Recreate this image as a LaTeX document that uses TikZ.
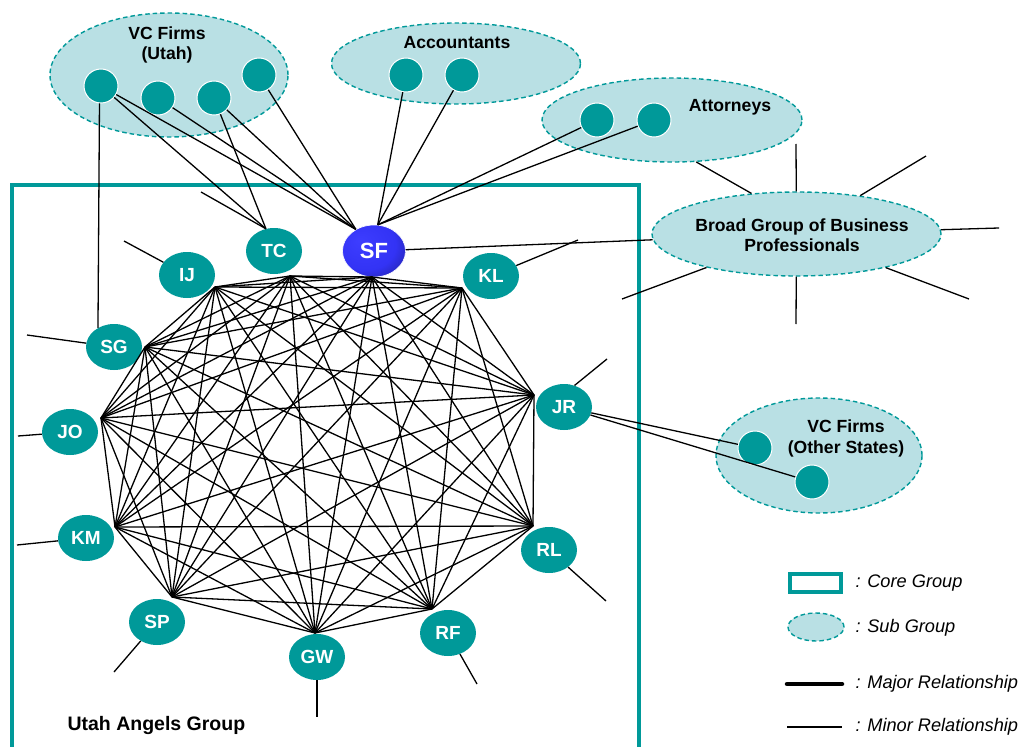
\documentclass[tikz,border=0pt]{standalone}
\usepackage{fontspec}
\setmainfont{Liberation Sans}
\usetikzlibrary{shapes.geometric}
\definecolor{teal1}{RGB}{0,153,153}
\definecolor{lteal}{RGB}{185,224,228}
\pgfdeclareradialshading{sfball}{\pgfpoint{-12bp}{10bp}}{rgb(0bp)=(0.24,0.24,1);rgb(24bp)=(0.2,0.2,0.96);rgb(40bp)=(0.12,0.12,0.6);rgb(56bp)=(0.05,0.05,0.3)}
\tikzset{
  member/.style={ellipse, fill=teal1, minimum width=56pt, minimum height=46pt, inner sep=0pt, text=white, font=\bfseries\fontsize{19}{22}\selectfont},
  grp/.style={ellipse, fill=lteal, draw=teal1, line width=1.4pt, dash pattern=on 4.5pt off 3pt, inner sep=0pt},
  firm/.style={circle, fill=teal1, draw=white, line width=1pt, minimum size=34pt, inner sep=0pt},
  rel/.style={line width=1.3pt, black},
  major/.style={line width=4.5pt, black},
  glabel/.style={font=\bfseries\fontsize{17.6}{20.5}\selectfont, align=center, text=black},
  legtext/.style={font=\itshape\fontsize{18.2}{21}\selectfont, anchor=west},
  core/.style={draw=teal1, line width=4pt}
}
\begin{document}
\begin{tikzpicture}[x=1pt,y=-1pt]
\useasboundingbox (0,0) rectangle (1024,746);
\clip (0,0) rectangle (1024,746);
\fill[white] (0,0) rectangle (1024,746);

% core group
\draw[core] (12,185) rectangle (639,760);

% sub groups
\node[grp, minimum width=238pt, minimum height=124pt] (vcu) at (169,75) {};
\node[grp, minimum width=249pt, minimum height=81pt] (acc) at (456,63.5) {};
\node[grp, minimum width=260pt, minimum height=84pt] (att) at (672,120) {};
\node[grp, minimum width=289pt, minimum height=84pt] (broad) at (796.5,234) {};
\node[grp, minimum width=206pt, minimum height=115pt] (vco) at (819,455.5) {};

\node[glabel] (vcuL) at (167,45) {VC Firms\\(Utah)};
\node[glabel] (accL) at (457,43) {Accountants};
\node[glabel] (attL) at (730,107) {Attorneys};
\node[glabel] (broadL) at (802,235) {Broad Group of Business\\Professionals};
\node[glabel] (vcoL) at (846,438.5) {VC Firms\\(Other States)};

% firm circles
\node[firm] (c1) at (101,86) {};
\node[firm] (c2) at (158,98) {};
\node[firm] (c3) at (214,98) {};
\node[firm] (c4) at (259,75) {};
\node[firm] (a1) at (406,75) {};
\node[firm] (a2) at (462,75) {};
\node[firm] (t1) at (597,120) {};
\node[firm] (t2) at (654,120) {};
\node[firm] (o1) at (755,448) {};
\node[firm] (o2) at (812,482) {};

% members
\node[member] (IJ) at (187,275) {IJ};
\node[member] (TC) at (274,251) {TC};
\node[ellipse, minimum width=63pt, minimum height=52pt, inner sep=0pt, shading=sfball, draw=white, line width=0.6pt, text=white, font=\bfseries\fontsize{22}{24}\selectfont] (SF) at (374,251) {SF};
\node[member] (KL) at (491,276) {KL};
\node[member] (JR) at (564,407) {JR};
\node[member] (RL) at (549,550) {RL};
\node[member] (RF) at (448,633) {RF};
\node[member] (GW) at (317,657) {GW};
\node[member] (SP) at (157,622) {SP};
\node[member] (KM) at (86,538) {KM};
\node[member] (JO) at (70,432) {JO};
\node[member] (SG) at (114,347) {SG};

% attachment points of the core network
\coordinate (pIJ) at (215,287);
\coordinate (pTC) at (290,276);
\coordinate (pSF) at (372,277);
\coordinate (pKL) at (462,288);
\coordinate (pJR) at (534,395);
\coordinate (pRL) at (533,526);
\coordinate (pRF) at (432,609);
\coordinate (pGW) at (315,633);
\coordinate (pSP) at (172,597);
\coordinate (pKM) at (115,527);
\coordinate (pJO) at (101,418);
\coordinate (pSG) at (145,347);

\foreach \a [count=\i] in {IJ,TC,SF,KL,JR,RL,RF,GW,SP,KM,JO,SG}{
  \foreach \b [count=\j] in {IJ,TC,SF,KL,JR,RL,RF,GW,SP,KM,JO,SG}{
    \ifnum\j>\i \draw[rel] (p\a) -- (p\b);\fi
  }
}

% free ends of outward ties
\coordinate (eIJ) at (124,241);
\coordinate (eTC) at (201,192);
\coordinate (eKL) at (578,240);
\coordinate (eJR) at (607,359);
\coordinate (eRL) at (606,601);
\coordinate (eRF) at (477,684);
\coordinate (eGW) at (317,717);
\coordinate (eSP) at (114,672);
\coordinate (eKM) at (17,545);
\coordinate (eJO) at (18,436);
\coordinate (eSG) at (27,335);
\coordinate (b1) at (796,144);
\coordinate (b2) at (926,156);
\coordinate (b3) at (999,228);
\coordinate (b4) at (969,299);
\coordinate (b5) at (796,324);
\coordinate (b6) at (622,299);

\draw[rel] (IJ) -- (eIJ);
\draw[rel] (TC.110) -- (eTC);
\draw[rel] (KL) -- (eKL);
\draw[rel] (JR.64) -- (eJR);
\draw[rel] (RL) -- (eRL);
\draw[rel] (RF) -- (eRF);
\draw[rel] (GW) -- (eGW);
\draw[rel] (SP) -- (eSP);
\draw[rel] (KM) -- (eKM);
\draw[rel] (JO) -- (eJO);
\draw[rel] (SG) -- (eSG);
\foreach \e in {b1,b2,b3,b4,b5,b6} \draw[rel] (broad) -- (\e);
\draw[rel] (att.-60) -- (broad.138);

% ties to sub groups
\draw[rel] (c1.265) -- (SG.130);
\draw[rel] (c1) -- (TC.110);
\draw[rel] (c3) -- (TC.110);
\foreach \c in {c1,c2,c3,c4} \draw[rel] (\c) -- (SF.130);
\foreach \c in {a1,a2,t1,t2} \draw[rel] (\c) -- (SF.82);
\draw[rel] (SF) -- (broad);
\draw[rel] (JR) -- (o1);
\draw[rel] (JR) -- (o2);

\node[font=\bfseries\fontsize{19.5}{22}\selectfont, anchor=west] (uag) at (64,725) {Utah Angels Group};

% legend
\draw[core, fill=white] (790,574) rectangle (841,592);
\node[grp, minimum width=56pt, minimum height=28pt] (legE) at (816,627) {};
\coordinate (m1) at (787,684);
\coordinate (m2) at (842,684);
\coordinate (n1) at (787,727);
\coordinate (n2) at (842,727);
\draw[major, line cap=round] (m1) -- (m2);
\draw[rel] (n1) -- (n2);
\node[legtext] (l1) at (852,583) {: Core Group};
\node[legtext] (l2) at (852,628) {: Sub Group};
\node[legtext] (l3) at (852,684) {: Major Relationship};
\node[legtext] (l4) at (852,727) {: Minor Relationship};
\end{tikzpicture}
\end{document}
